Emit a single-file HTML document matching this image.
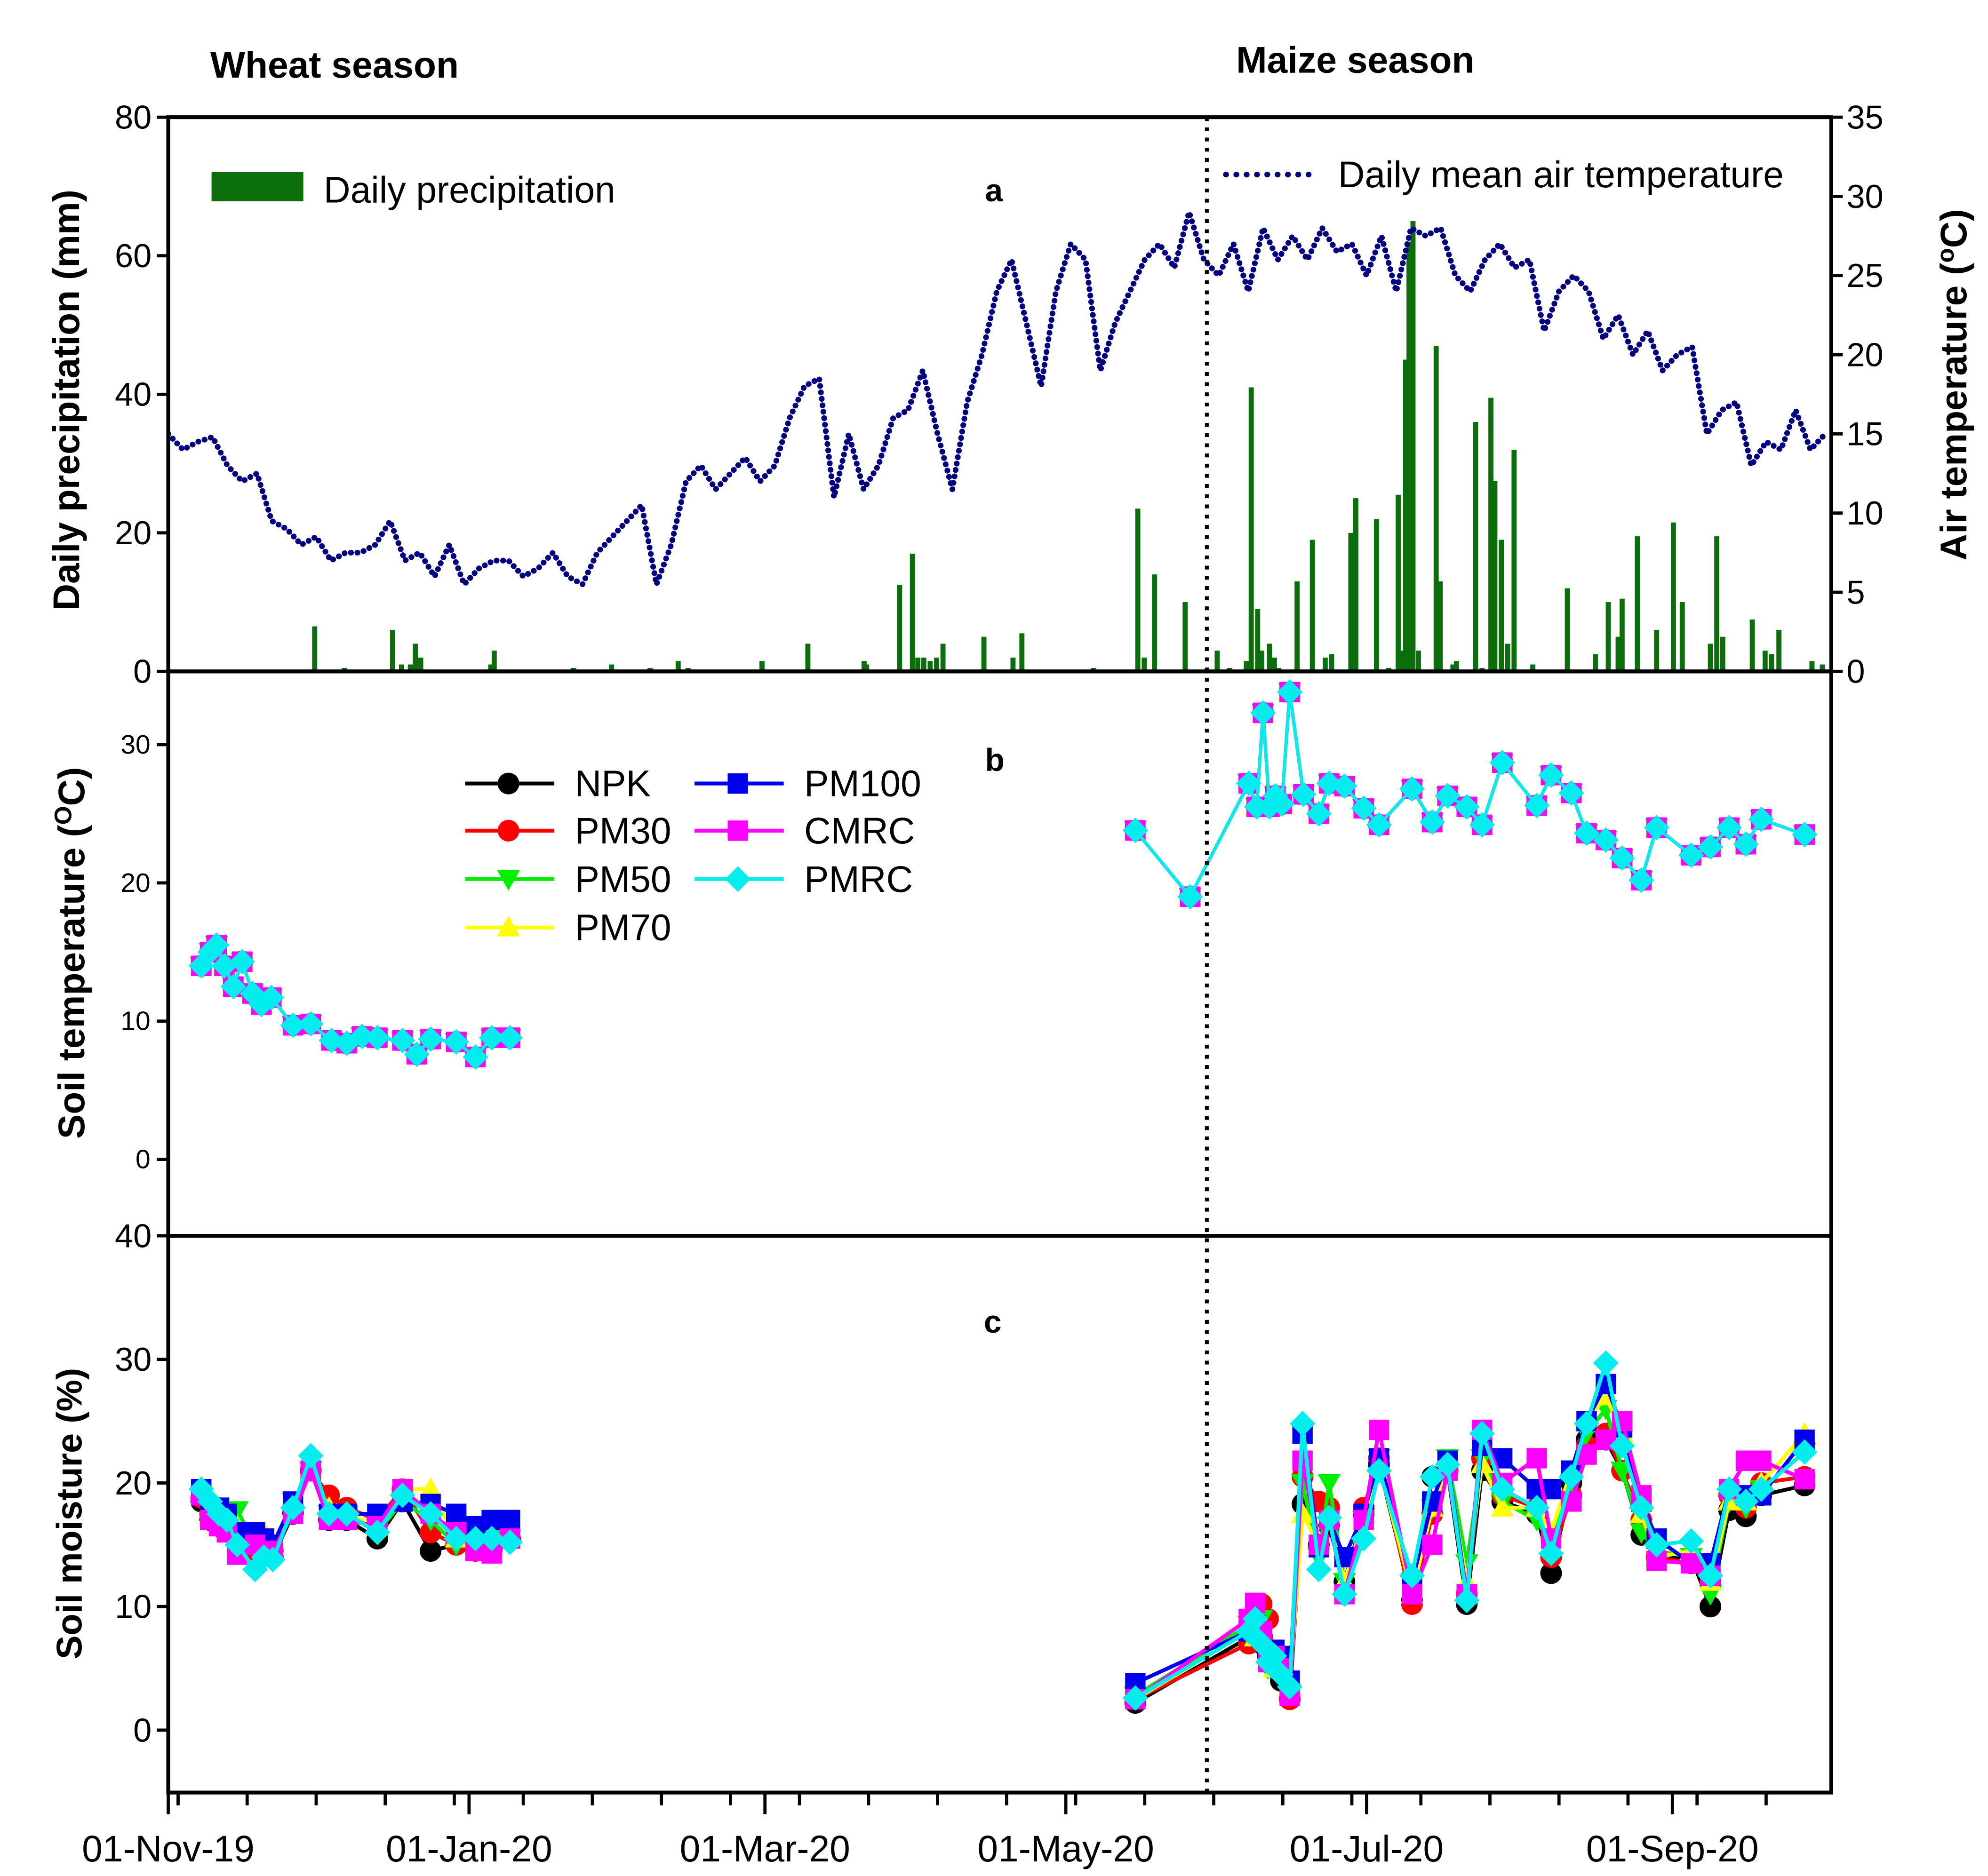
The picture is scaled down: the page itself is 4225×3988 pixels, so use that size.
<!DOCTYPE html>
<html><head><meta charset="utf-8"><style>
html,body{margin:0;padding:0;background:#fff}
svg{display:block}
text{font-family:"Liberation Sans",Arial,sans-serif}
</style></head><body>
<svg id="chart" xmlns="http://www.w3.org/2000/svg" width="4225" height="3988" viewBox="0 0 1560 1472.5">
<rect x="0" y="0" width="1560" height="1472.5" fill="#fff"/>
<g id="g"></g>
</svg>
<script>
// ---- data ----
const precipDays=[29.7,35.7,45.5,47.3,49.1,50.1,51.2,65.4,66.1,82.2,89.9,97.7,103.4,105.4,120.4,129.7,141.1,141.6,148.3,150.9,152,153.2,154.5,155.8,157.1,165.4,171.3,173.1,187.6,196.6,197.9,200,206.2,212.7,215.2,218.6,219.6,220.9,221.7,223.3,224.3,225.1,228.9,232,234.6,235.9,239.8,240.8,245,247.5,249.4,250.1,250.9,251.6,252.4,253.5,257.1,257.9,260.5,261.2,265.1,266.4,268.2,269,270.3,271.6,272.9,276.7,283.7,289.4,292,294,294.8,297.9,301.8,305.2,307,312.7,314,315.2,321.2,323.8,325.1,326.6,333.3,335.4];
const precipVals=[6.5,0.5,6,1,1,4,2,1,3,0.5,1,0.5,1.5,0.5,1.5,4,1.5,1,12.5,17,2,2,1.5,2,4,5,2,5.5,0.5,23.5,2,14,10,3,0.5,1.5,41,9,3,4,2,0.5,13,19,2,2.5,20,25,22,0.5,25.5,3,45,62,65,3,47,13,1,1.5,36,0.5,39.5,27.5,19,4,32,1,12,2.5,10,5,10.5,19.5,6,21.5,10,4,19.5,5,7.5,3,2.5,6,1.5,1];
const airTemp=[15,14,14.5,14.8,13,12,12.5,9.5,9,8,8.5,7,7.5,7.5,8,9.5,7,7.5,6,8,5.5,6.5,7,7,6,6.5,7.5,6,5.5,7.5,8.5,9.5,10.5,5.5,8,12,13,11.5,12.5,13.5,12,13,16,18,18.5,11,15,11.5,13,16,16.5,19,15,11.5,17,20,24,26,22,18,24,27,26,19,22,24,26,27,25.5,29,26,25,27,24,28,26,27.5,26,28,26.5,27,25,27.5,24,28,27.5,28,25,24,26,27,25.5,26,21.5,24,25,24,21,22.5,20,21.5,19,20,20.5,15,16.5,17,13,14.5,14,16.5,14,15];
const soilTempDays=[6.7,8.5,9.8,11.4,13.2,15,17.1,18.9,20.9,25.3,28.9,33.1,36.2,39.3,42.4,47.5,50.4,53.2,58.4,62.3,65.6,69.3,null,196.1,207.2,219.1,220.7,222,223.3,224.5,225.8,227.4,230.2,233.3,235.4,238.5,242.4,245.5,252.2,256.3,259.4,263.3,266.4,270.5,277.5,280.4,284.5,287.6,291.5,294.8,298.7,301.8,308.8,312.7,316.5,319.9,323,331.8];
const soilTemp=[14,15,15.5,14,12.5,14.3,12,11.2,11.7,9.7,9.8,8.6,8.4,8.9,8.8,8.6,7.6,8.7,8.5,7.4,8.8,8.8,null,23.8,19,27.2,25.5,32.3,25.5,26.3,25.7,33.8,26.4,25,27.2,27,25.4,24.2,26.8,24.4,26.3,25.5,24.2,28.7,25.6,27.8,26.5,23.6,23.1,21.8,20.2,24,22,22.6,24,22.8,24.6,23.5];
const smDays=[6.7,8.5,10.3,11.9,14,17.6,19.4,21.2,25.3,28.9,32.6,36.2,42.4,47.5,53.2,58.4,62.3,65.6,69.3,null,196.1,219.1,220.4,221.7,223,224.3,225.6,227.4,230,233.3,235.4,238.5,242.4,245.5,252.2,256.3,259.4,263.3,266.4,270.5,277.5,280.4,284.5,287.6,291.5,294.8,298.7,301.8,308.8,312.7,316.5,319.9,323,331.8];
const smNPK=[18.5,17,16.5,16.5,15,15,14.5,14,17.5,21,17,17,15.5,18.5,14.5,15,15,15.5,15.5,null,2.2,7.5,9,7,6,5.5,4,2.5,18.3,15,16.5,12,17.5,21.5,10.5,20.5,21,10.2,21,18.5,17.5,12.7,20,23.5,23.5,21,15.8,14,14,10,17.8,17.3,19,19.8];
const smPM30=[18.8,17.5,17,16.5,15.5,14.5,15,14.5,18,21,19,18,17,19.5,16,15,14.5,14.5,15.5,null,2.5,7,8,10.2,9,6,5,2.5,20.5,18.5,18,11,18,22,10.2,17.5,21,11,22,19,18,14,19,23,24,21,17,14,13.5,12,19,18,20,20.5];
const smPM50=[19,17,17,16.5,17.8,15,14.5,14,18.5,21,17.5,17.5,16,18.5,17,15,14.8,15.5,15.5,null,2.8,8.5,8,9,5,5.5,6,3,20,14,20,12,17,22,12,18,22,13.5,22,18.5,17,15,20,24,26,21,16,14.5,14,11,18.5,18,19.5,22.5];
const smPM70=[19,17.5,16.5,16,16.5,15,16,15,18,21,18,17.5,16.5,19.5,19.5,15.5,15,15,15.5,null,2.5,8,7.5,8,6,5,6,3.5,17.5,15,17,12,17,21.5,11,18,21,12,21.5,18,18,16,21,25,27,24,17.5,14,14.5,12,18.5,18.5,20,24];
const smPM100=[19.5,18,18,17.5,16,16,15.5,15,18.5,21,17.5,17.5,17.5,18.5,18.3,17.5,16.5,17,17,null,3.8,8,8.5,8,5.5,6.5,6,4,24,14.8,17,14,17.5,22,12,18.5,21.8,11,23,22,19.5,19.5,21,25,28,24.5,18.5,15.5,13.5,13.5,19.5,19,19,23.5];
const smCMRC=[19,17,16.5,16,14.2,15,14.5,14.5,17.5,21,17,17,16.5,19.5,17.5,16,14.5,14.3,15.5,null,2.5,9,10.3,8,5.5,6,5,2.8,21.8,15,17,11,17,24.3,11,15,21,11,24.3,20,22,15.5,18.5,22.3,23.5,25,19,13.7,13.5,12.5,19.5,21.8,21.8,20.3];
const smPMRC=[19.5,18.5,17.5,17,15,13,14,13.8,18,22.2,17.5,17.5,16,19,17.5,15.5,15.5,15.5,15.2,null,2.6,8,9,7,5.5,6,4.5,3.5,24.8,13,17.2,11,15.5,21,12.5,20.5,21.5,10.5,24,19.5,18,14.3,20.5,24.8,29.7,23,18,15,15.3,12.5,19.5,18.5,19.5,22.5];
const seriesNames=["NPK","PM30","PM50","PM70","PM100","CMRC","PMRC"];
const dateLabels=["01-Nov-19","01-Jan-20","01-Mar-20","01-May-20","01-Jul-20","01-Sep-20"];
const dateLabelDays=[0,61,121,182,243,305];
const precipTicks=[0,20,40,60,80];
const tempTicks=[0,5,10,15,20,25,30,35];
const soilTTicks=[0,10,20,30];
const smTicks=[0,10,20,30,40];
const seasonSplitDay=210.6;

// ---- layout ----
const NS="http://www.w3.org/2000/svg";
const G=document.getElementById('g');
const L=132,R=1437,A0=92,A1=527,B1=970,C1=1407;
const X=d=>L+d*3.87;
const yP=v=>A1-v*(A1-A0)/80;
const yT=v=>A1-v*(A1-A0)/35;
const yST=v=>910-v*10.85;
const ySM=v=>1358-v*9.7;
function el(tag,attrs,parent){const e=document.createElementNS(NS,tag);for(const k in attrs)e.setAttribute(k,attrs[k]);(parent||G).appendChild(e);return e;}
function txt(s,attrs,parent){const e=el('text',attrs,parent);e.textContent=s;return e;}

const defs=el('defs',{});
const cp=el('clipPath',{id:'clipA'},defs);el('rect',{x:L,y:A0,width:R-L,height:A1-A0},cp);

// precipitation bars
const barsG=el('g',{'clip-path':'url(#clipA)'});


precipDays.forEach((d,i)=>{
  const b=el('rect',{x:X(d)-2,y:yP(precipVals[i]),width:4,height:A1-yP(precipVals[i]),fill:'#0a6e0a'},barsG);
  
  
});
// air temperature dotted line
const tpts=airTemp.map((v,i)=>X(i*3)+','+yT(v)).join(' ');
const tl=el('polyline',{points:tpts,fill:'none',stroke:'#000080','stroke-width':4.5,'stroke-dasharray':'0.1,5','stroke-linecap':'round','clip-path':'url(#clipA)'});



const colors={NPK:'#000',PM30:'#ff0000',PM50:'#00ee00',PM70:'#ffff00',PM100:'#0000ee',CMRC:'#ff00ff',PMRC:'#00eeee'};
function marker(name,x,y,parent){
  const c=colors[name];let m;
  if(name==='NPK'||name==='PM30')m=el('circle',{cx:x,cy:y,r:8.5,fill:c},parent);
  else if(name==='PM50')m=el('polygon',{points:`${x-9},${y-7} ${x+9},${y-7} ${x},${y+9}`,fill:c},parent);
  else if(name==='PM70')m=el('polygon',{points:`${x-9},${y+7} ${x+9},${y+7} ${x},${y-9}`,fill:c},parent);
  else if(name==='PM100'||name==='CMRC')m=el('rect',{x:x-8,y:y-8,width:16,height:16,fill:c},parent);
  else m=el('polygon',{points:`${x},${y-10} ${x+10},${y} ${x},${y+10} ${x-10},${y}`,fill:c},parent);
  
  
}
function drawSeries(name,days,vals,yf,sm){
  const g=el('g',{});
  
  
  let seg=[];const segs=[];
  days.forEach((d,i)=>{if(d===null){segs.push(seg);seg=[];}else seg.push([X(d),yf(vals[i])]);});
  segs.push(seg);
  segs.forEach(s=>el('polyline',{points:s.map(p=>p.join(',')).join(' '),fill:'none',stroke:colors[name],'stroke-width':sm?3:2.5},g));
  segs.forEach(s=>s.forEach(p=>marker(name,p[0],p[1],g)));
}
seriesNames.forEach(n=>drawSeries(n,soilTempDays,soilTemp,yST,false));
const smData={NPK:smNPK,PM30:smPM30,PM50:smPM50,PM70:smPM70,PM100:smPM100,CMRC:smCMRC,PMRC:smPMRC};
seriesNames.forEach(n=>drawSeries(n,smDays,smData[n],ySM,true));

const sl=el('line',{x1:X(seasonSplitDay),x2:X(seasonSplitDay),y1:A0,y2:C1,stroke:'#000','stroke-width':3,'stroke-dasharray':'3,5'});



[[A0,A1],[A1,B1],[B1,C1]].forEach((p,i)=>{
  const f=el('rect',{x:L,y:p[0],width:R-L,height:p[1]-p[0],fill:'none',stroke:'#000','stroke-width':3});
  
  
});
const fs=26;
precipTicks.forEach(v=>{el('line',{x1:L-9,x2:L,y1:yP(v),y2:yP(v),stroke:'#000','stroke-width':2.5});
  const t=txt(v,{x:L-13,y:yP(v)+9,'font-size':fs,'text-anchor':'end'});});
tempTicks.forEach(v=>{el('line',{x1:R,x2:R+9,y1:yT(v),y2:yT(v),stroke:'#000','stroke-width':2.5});
  const t=txt(v,{x:R+12,y:yT(v)+9,'font-size':fs,'text-anchor':'start'});});
soilTTicks.forEach(v=>{el('line',{x1:L-9,x2:L,y1:yST(v),y2:yST(v),stroke:'#000','stroke-width':2.5});
  const t=txt(v,{x:L-14,y:yST(v)+7,'font-size':21,'text-anchor':'end'});});
smTicks.forEach(v=>{el('line',{x1:L-9,x2:L,y1:ySM(v),y2:ySM(v),stroke:'#000','stroke-width':2.5});
  const t=txt(v,{x:L-13,y:ySM(v)+9,'font-size':fs,'text-anchor':'end'});});
for(let d=2;d<337;d+=14){el('line',{x1:X(d),x2:X(d),y1:C1,y2:C1+10,stroke:'#000','stroke-width':2.5});}
dateLabelDays.forEach((d,i)=>{el('line',{x1:X(d),x2:X(d),y1:C1,y2:C1+17,stroke:'#000','stroke-width':2.5});
  const t=txt(dateLabels[i],{x:X(d),y:1461,'font-size':29,'text-anchor':'middle'});});

function lab(s,name,attrs){const t=txt(s,attrs);return t;}
lab('Wheat season','wheat-season-title',{x:165,y:61,'font-size':29,'font-weight':'bold'});
lab('Maize season','maize-season-title',{x:970,y:57,'font-size':29,'font-weight':'bold'});
lab('a','panel-a-label',{x:773,y:158,'font-size':25,'font-weight':'bold'});
lab('b','panel-b-label',{x:773,y:605,'font-size':25,'font-weight':'bold'});
lab('c','panel-c-label',{x:772,y:1046,'font-size':25,'font-weight':'bold'});
lab('Daily precipitation (mm)','precip-axis-title',{x:0,y:0,'font-size':29,'font-weight':'bold','text-anchor':'middle',transform:'translate(62,314) rotate(-90)'});
const at=lab('','air-temp-axis-title',{x:0,y:0,'font-size':29,'font-weight':'bold','text-anchor':'middle',transform:'translate(1543,302) rotate(-90)'});
at.innerHTML='Air temperature (<tspan dy="-10" font-size="19">o</tspan><tspan dy="10">C)</tspan>';
const st=lab('','soil-temp-axis-title',{x:0,y:0,'font-size':29,'font-weight':'bold','text-anchor':'middle',transform:'translate(66,748) rotate(-90)'});
st.innerHTML='Soil temperature (<tspan dy="-10" font-size="19">O</tspan><tspan dy="10">C)</tspan>';
lab('Soil moisture (%)','soil-moisture-axis-title',{x:0,y:0,'font-size':28,'font-weight':'bold','text-anchor':'middle',transform:'translate(64,1188) rotate(-90)'});

const lg1=el('g',{});
el('rect',{x:166,y:135,width:72,height:23,fill:'#0a6e0a'},lg1);
txt('Daily precipitation',{x:254,y:159,'font-size':29},lg1);
const lg2=el('g',{});
el('line',{x1:962,x2:1034,y1:137,y2:137,stroke:'#000080','stroke-width':4.5,'stroke-dasharray':'0.1,8','stroke-linecap':'round'},lg2);
txt('Daily mean air temperature',{x:1050,y:147,'font-size':29},lg2);
const legPos={NPK:[365,615],PM30:[365,652],PM50:[365,690],PM70:[365,728],PM100:[545,615],CMRC:[545,652],PMRC:[545,690]};
seriesNames.forEach(n=>{
  const g=el('g',{});
  const [x,y]=legPos[n];
  el('line',{x1:x,x2:x+70,y1:y,y2:y,stroke:colors[n],'stroke-width':3},g);
  marker(n,x+34,y,g);
  txt(n,{x:x+86,y:y+10,'font-size':29},g);
});
</script>
</body></html>
